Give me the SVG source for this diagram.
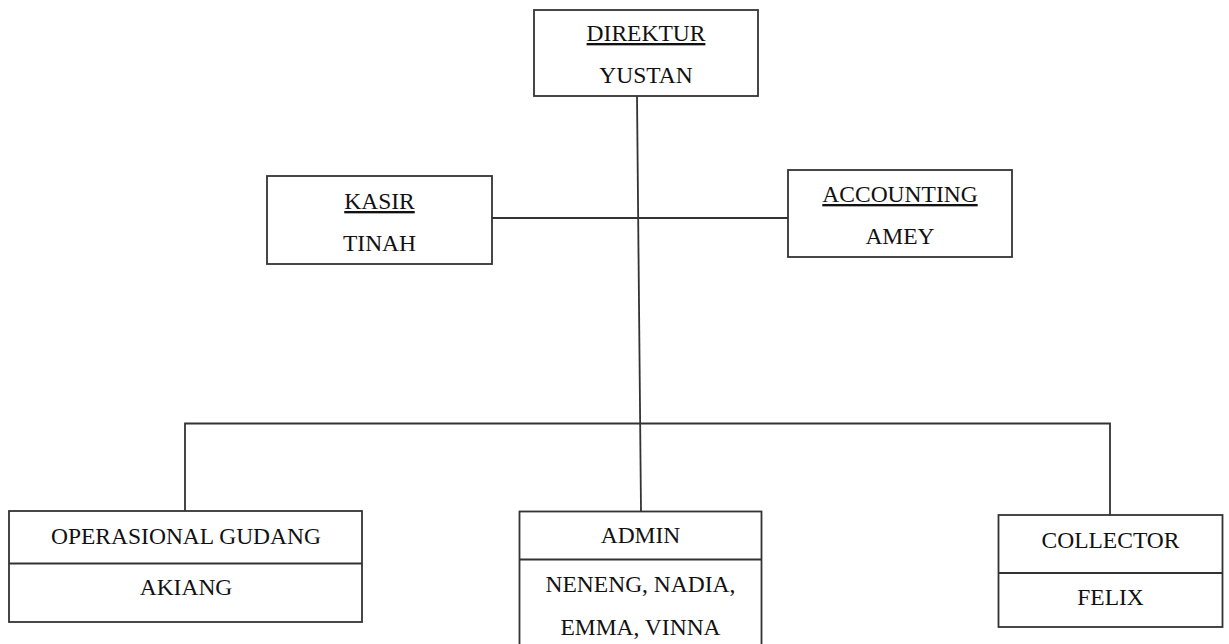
<svg xmlns="http://www.w3.org/2000/svg" width="1229" height="644" viewBox="0 0 1229 644">
<style>
.box{fill:#fff;stroke:#333;stroke-width:1.8}
.ln{fill:none;stroke:#333;stroke-width:1.8}
.t{font-family:"Liberation Serif","Times New Roman",serif;font-size:23.5px;fill:#111;text-anchor:middle}
.u{text-decoration:underline}
</style>
<rect width="1229" height="644" fill="#fff"/>
<g id="connectors">
<path class="ln" d="M637,96 L641,511"/>
<path class="ln" d="M492,218 L788,218"/>
<path class="ln" d="M185,511 L185,423.5 L1110,423.5 L1110,515"/>
</g>
<g id="direktur">
<rect class="box" x="534" y="10" width="224" height="86"/>
<text class="t u" x="646" y="41">DIREKTUR</text>
<text class="t" x="646" y="83">YUSTAN</text>
</g>
<g id="kasir">
<rect class="box" x="267" y="176" width="225" height="88"/>
<text class="t u" x="379.5" y="209">KASIR</text>
<text class="t" x="379.5" y="251">TINAH</text>
</g>
<g id="accounting">
<rect class="box" x="788" y="170" width="224" height="87"/>
<text class="t u" x="900" y="202">ACCOUNTING</text>
<text class="t" x="900" y="244">AMEY</text>
</g>
<g id="operasional">
<rect class="box" x="9" y="511" width="353" height="111"/>
<line class="ln" x1="9" y1="563.5" x2="362" y2="563.5"/>
<text class="t" x="186" y="543.5">OPERASIONAL GUDANG</text>
<text class="t" x="186" y="595">AKIANG</text>
</g>
<g id="admin">
<rect class="box" x="519.5" y="511.5" width="242" height="140"/>
<line class="ln" x1="519.5" y1="559.5" x2="761.5" y2="559.5"/>
<text class="t" x="640.5" y="543">ADMIN</text>
<text class="t" x="640.5" y="591.5">NENENG, NADIA,</text>
<text class="t" x="640.5" y="634.5">EMMA, VINNA</text>
</g>
<g id="collector">
<rect class="box" x="998.5" y="515" width="224" height="112"/>
<line class="ln" x1="998.5" y1="573" x2="1222.5" y2="573"/>
<text class="t" x="1110.5" y="547.5">COLLECTOR</text>
<text class="t" x="1110.5" y="605">FELIX</text>
</g>
</svg>
